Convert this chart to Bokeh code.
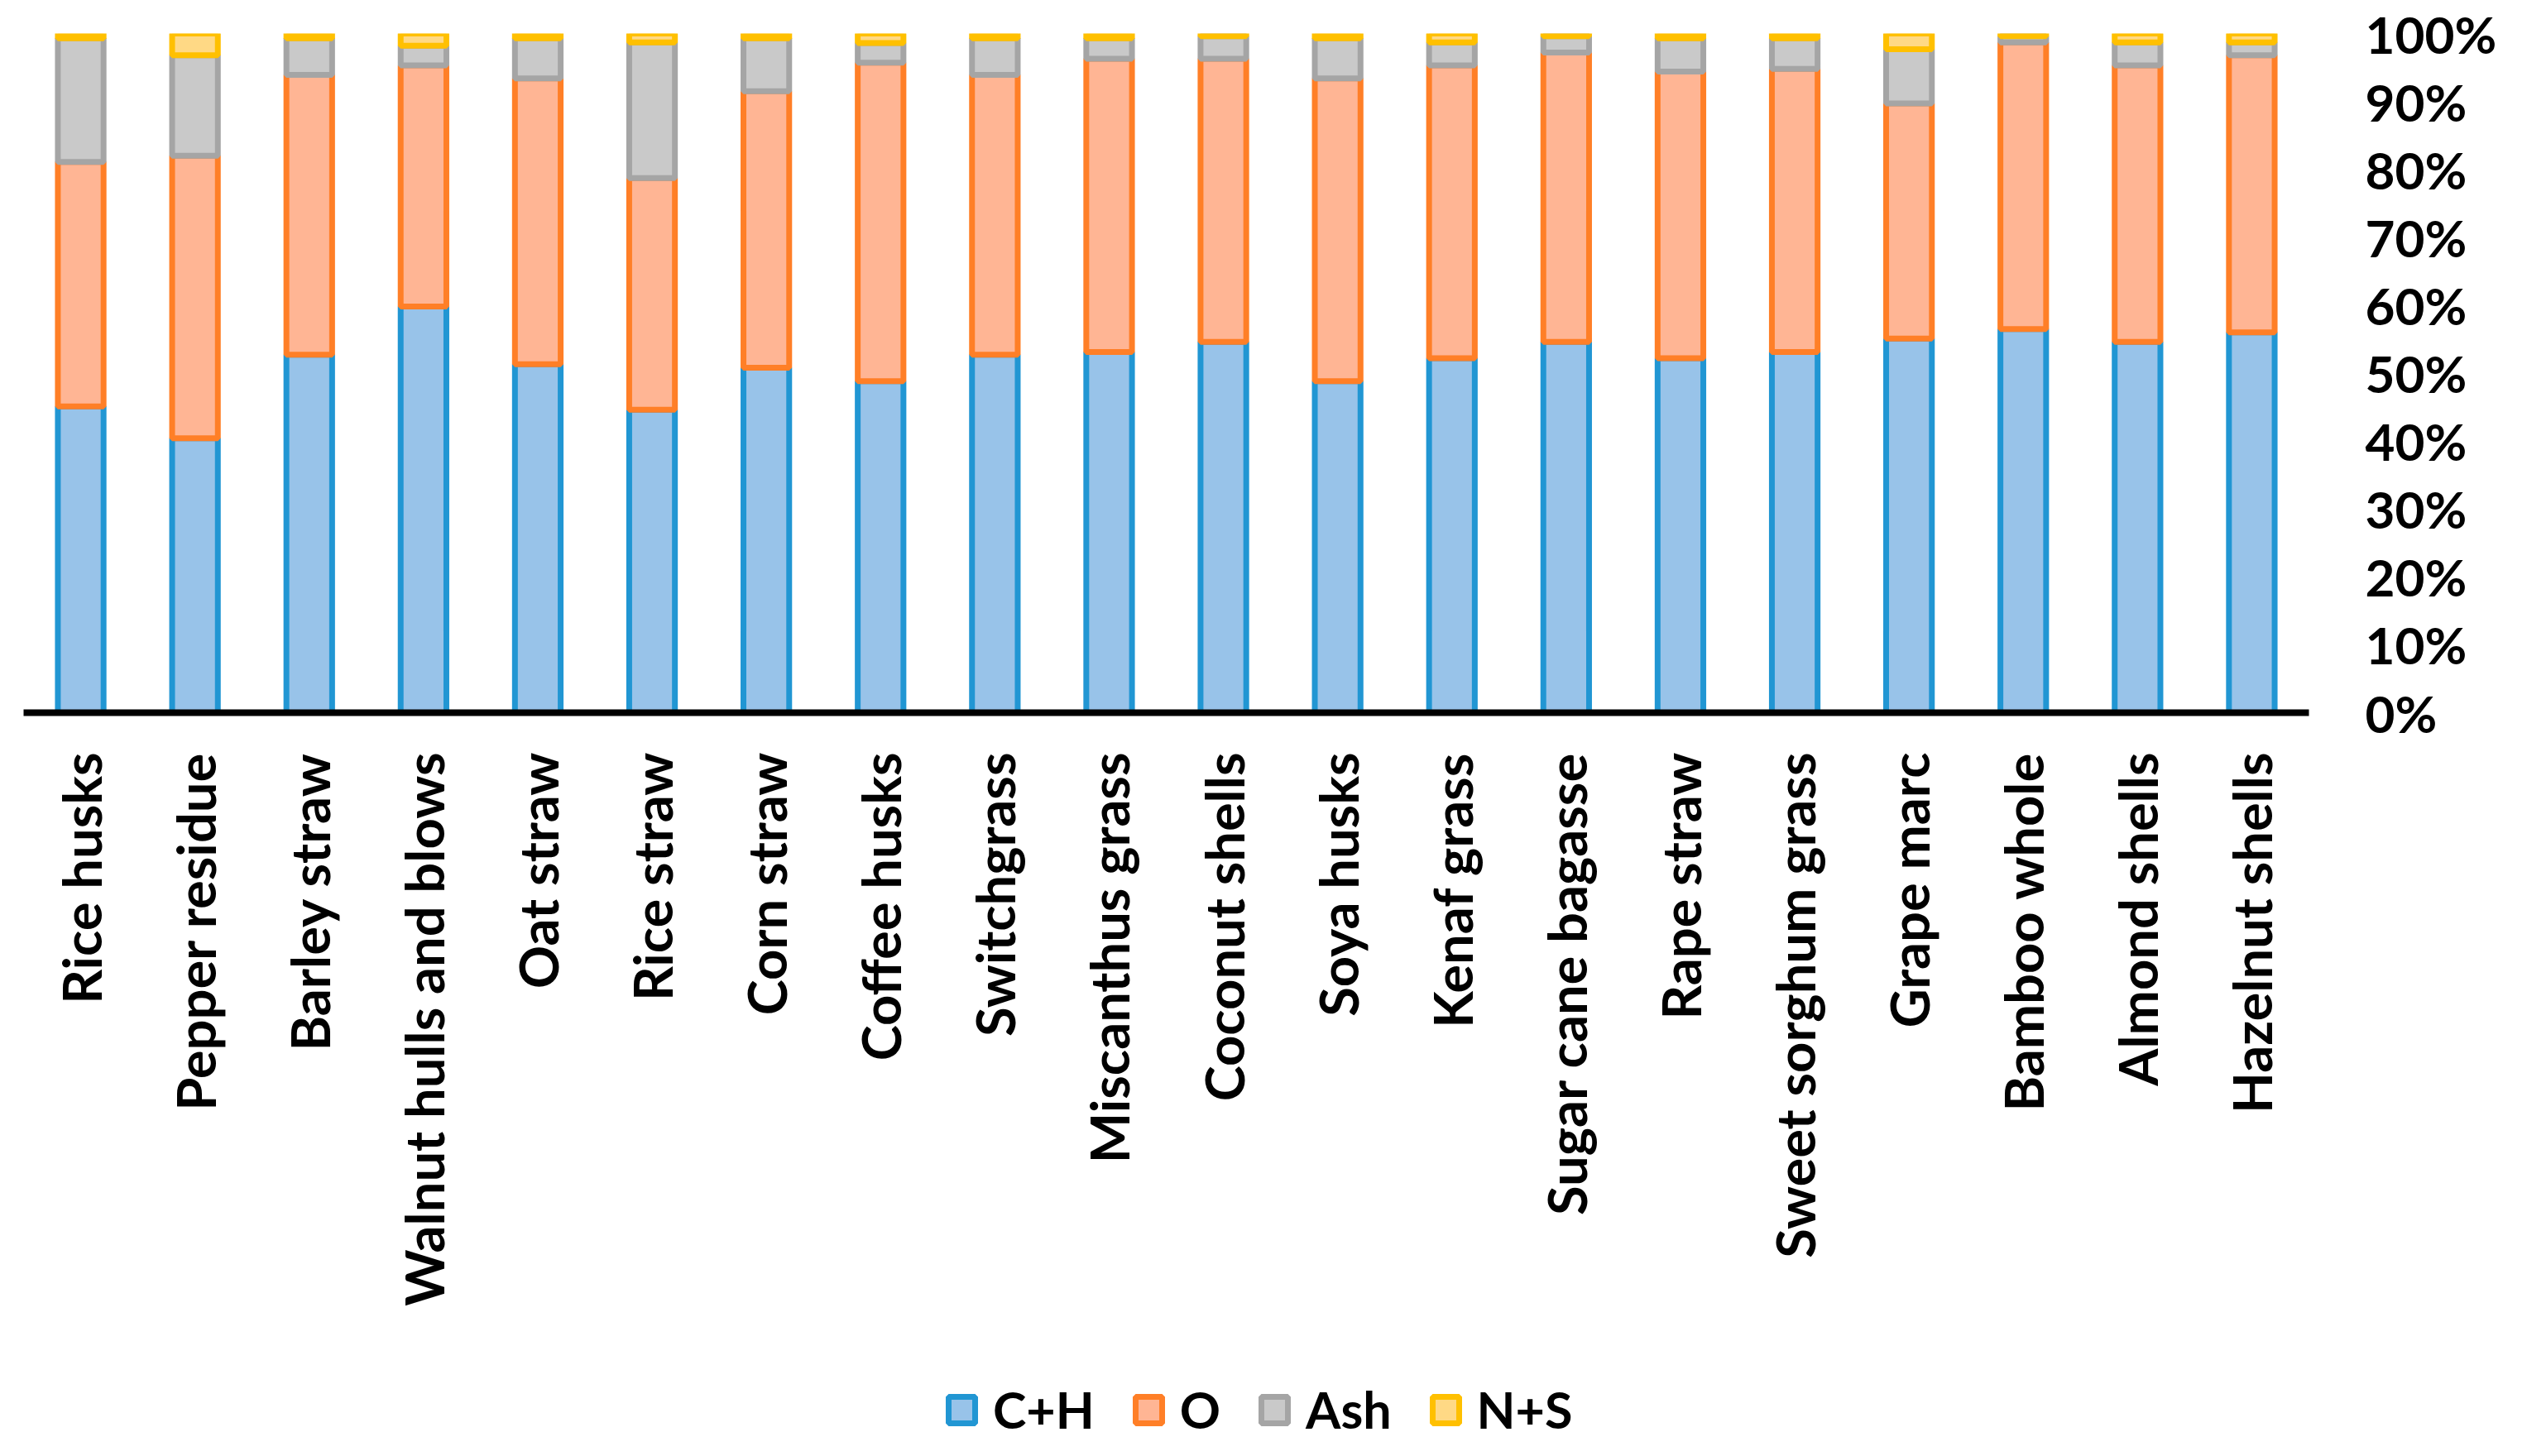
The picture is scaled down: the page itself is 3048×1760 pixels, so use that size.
import math
from bokeh.plotting import figure
from bokeh.layouts import column
from bokeh.models import (ColumnDataSource, FactorRange, Range1d, NumeralTickFormatter,
                          Legend, LegendItem, FixedTicker)
from bokeh.embed import file_html
from bokeh.resources import INLINE

categories = ["Rice husks", "Pepper residue", "Barley straw", "Walnut hulls and blows",
              "Oat straw", "Rice straw", "Corn straw", "Coffee husks", "Switchgrass",
              "Miscanthus grass", "Coconut shells", "Soya husks", "Kenaf grass",
              "Sugar cane bagasse", "Rape straw", "Sweet sorghum grass", "Grape marc",
              "Bamboo whole", "Almond shells", "Hazelnut shells"]

series_names = ["C+H", "O", "Ash", "N+S"]

ch = [45.1, 40.4, 52.7, 59.8, 51.3, 44.6, 50.8, 48.8, 52.7, 53.1,
      54.6, 48.8, 52.2, 54.6, 52.2, 53.1, 55.1, 56.5, 54.6, 56.0]
o = [36.0, 41.6, 41.2, 35.5, 42.1, 34.1, 40.7, 46.9, 41.2, 43.2,
     41.7, 44.6, 43.1, 42.6, 42.2, 41.7, 34.6, 42.2, 40.7, 40.8]
ash = [18.2, 14.8, 5.4, 2.9, 5.9, 20.0, 7.8, 2.9, 5.4, 3.0,
       3.3, 5.9, 3.4, 2.4, 4.9, 4.5, 8.0, 0.9, 3.4, 1.9]
ns = [0.7, 3.2, 0.7, 1.8, 0.7, 1.3, 0.7, 1.4, 0.7, 0.7,
      0.4, 0.7, 1.3, 0.4, 0.7, 0.7, 2.3, 0.4, 1.3, 1.3]

y_ticks = [i / 10 for i in range(11)]

fills = ["#98c3e9", "#ffb594", "#c9c9c9", "#ffd985"]
lines = ["#2196d3", "#ff7f27", "#a5a5a5", "#ffc000"]

def share(vals, i):
    tot = ch[i] + o[i] + ash[i] + ns[i]
    return vals[i] / tot

n = len(categories)
src = ColumnDataSource(dict(
    cat=categories,
    ch=[share(ch, i) for i in range(n)],
    o=[share(o, i) for i in range(n)],
    ash=[share(ash, i) for i in range(n)],
    ns=[share(ns, i) for i in range(n)],
))

FONT = "Lato"
W = 3032
H_MAIN = 1620
H_LEG = 124
TOP = 40
FRAME_H = 821

p = figure(width=W, height=H_MAIN, x_range=FactorRange(*categories),
           y_range=Range1d(0, 1), y_axis_location="right",
           output_backend="svg", toolbar_location=None,
           min_border_left=28, min_border_top=TOP, min_border_right=242,
           min_border_bottom=H_MAIN - TOP - FRAME_H)
p.outline_line_color = None
p.xgrid.grid_line_color = None
p.ygrid.grid_line_color = None
p.background_fill_color = "white"
p.border_fill_color = "white"

rs = p.vbar_stack(["ch", "o", "ash", "ns"], x="cat", width=0.40, source=src,
                  fill_color=fills, line_color=lines, line_width=7)

# x axis
xa = p.xaxis[0]
xa.axis_line_color = "black"
xa.axis_line_width = 8
xa.major_tick_line_color = None
xa.minor_tick_line_color = None
xa.major_tick_out = 0
xa.major_tick_in = 0
xa.major_label_orientation = math.pi / 2
xa.major_label_standoff = 48
xa.major_label_text_font = FONT
xa.major_label_text_font_style = "bold"
xa.major_label_text_font_size = "65px"
xa.major_label_text_color = "black"

# y axis (right)
ya = p.yaxis[0]
ya.ticker = FixedTicker(ticks=y_ticks)
ya.formatter = NumeralTickFormatter(format="0%")
ya.axis_line_color = None
ya.major_tick_line_color = None
ya.minor_tick_line_color = None
ya.major_tick_out = 0
ya.major_tick_in = 0
ya.major_label_standoff = 68
ya.major_label_text_font = FONT
ya.major_label_text_font_style = "bold"
ya.major_label_text_font_size = "62px"
ya.major_label_text_color = "black"

# legend strip below the chart
lp = figure(width=W, height=H_LEG, x_range=Range1d(0, 1), y_range=Range1d(0, 1),
            x_axis_location=None, y_axis_location=None,
            output_backend="svg", toolbar_location=None,
            min_border_left=0, min_border_right=0, min_border_top=0, min_border_bottom=0)
lp.outline_line_color = None
lp.xgrid.grid_line_color = None
lp.ygrid.grid_line_color = None
lp.background_fill_color = "white"
lp.border_fill_color = "white"

# swatch renderers (hidden; only their legend glyphs show)
swatch_src = ColumnDataSource(dict(x=[0.5], top=[0.5]))
leg_rs = [lp.vbar(x="x", top="top", width=0.1, source=swatch_src,
                  fill_color=fc, line_color=lc, line_width=7, visible=False)
          for fc, lc in zip(fills, lines)]

legend = Legend(items=[LegendItem(label=nm, renderers=[r]) for nm, r in zip(series_names, leg_rs)],
                orientation="horizontal", location=(1114, 4))
legend.label_text_font = FONT
legend.label_text_font_style = "bold"
legend.label_text_font_size = "61px"
legend.label_text_color = "black"
legend.glyph_width = 40
legend.glyph_height = 40
legend.label_standoff = 18
legend.spacing = 45
legend.padding = 0
legend.margin = 0
legend.border_line_color = None
legend.background_fill_alpha = 0
legend.inactive_fill_alpha = 0
lp.add_layout(legend, "center")

layout = column(p, lp, spacing=0)
open("out.html", "w").write(file_html(layout, INLINE))
